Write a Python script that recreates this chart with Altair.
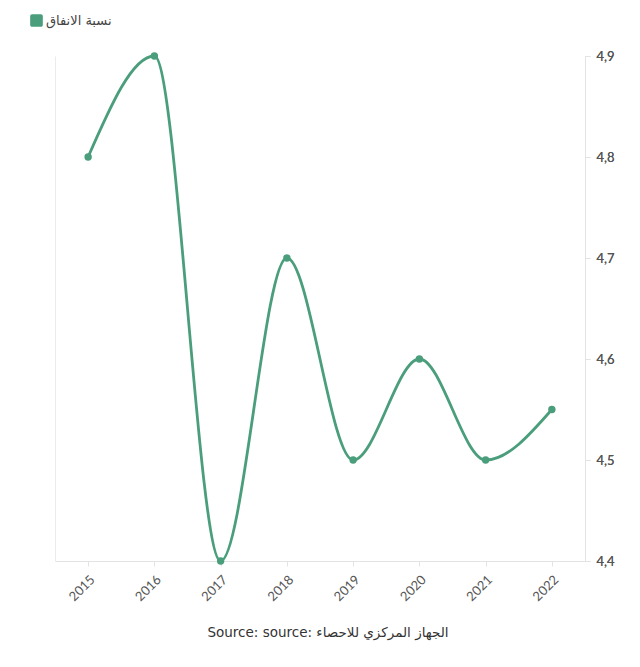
import altair as alt
import pandas as pd

years = ["2015", "2016", "2017", "2018", "2019", "2020", "2021", "2022"]
values = [4.8, 4.9, 4.4, 4.7, 4.5, 4.6, 4.5, 4.55]
series_name = "نسبة الانفاق"
y_ticks = [4.4, 4.5, 4.6, 4.7, 4.8, 4.9]
source_text = "Source: source: الجهاز المركزي للاحصاء"

df = pd.DataFrame({"year": years, "value": values, "series": [series_name] * len(years)})

W, H = 530, 505
GREEN = "#4a9e7c"

color = alt.Color(
    "series:N",
    scale=alt.Scale(range=[GREEN]),
    legend=alt.Legend(
        title=None,
        orient="none",
        legendX=-25,
        legendY=-42,
        symbolType="M-0.7,-1H0.7A0.3,0.3 0 0 1 1,-0.7V0.7A0.3,0.3 0 0 1 0.7,1H-0.7A0.3,0.3 0 0 1 -1,0.7V-0.7A0.3,0.3 0 0 1 -0.7,-1Z",
        symbolSize=160,
        symbolFillColor=GREEN,
        symbolStrokeWidth=0,
        labelFontSize=13,
        labelColor="#444",
        labelFont="DejaVu Sans",
        symbolOffset=0,
        labelOffset=3,
        padding=0,
    ),
)

x = alt.X(
    "year:O",
    scale=alt.Scale(type="point", padding=0.5),
    axis=alt.Axis(
        title=None,
        labelAngle=-45,
        labelFontSize=13,
        labelColor="#555",
        labelFont="Lato",
        domainColor="#e3e3e3",
        tickColor="#e3e3e3",
        tickSize=5,
        labelPadding=7,
        grid=False,
    ),
)
yscale = alt.Scale(domain=[4.4, 4.9], nice=False, zero=False)
y = alt.Y(
    "value:Q",
    scale=yscale,
    axis=alt.Axis(
        title=None,
        orient="right",
        values=y_ticks,
        labelExpr="replace(format(datum.value, '.1f'), '.', ',')",
        labelFontSize=13,
        labelColor="#555",
        labelFont="Lato",
        domainColor="#e3e3e3",
        tickColor="#e3e3e3",
        tickSize=5,
        labelPadding=6,
        grid=False,
    ),
)

left_border = alt.Chart(df).mark_point(opacity=0).encode(
    x=x,
    y=alt.Y(
        "value:Q",
        scale=yscale,
        axis=alt.Axis(
            title=None, orient="left", labels=False, ticks=False,
            domainColor="#ebebeb", grid=False,
        ),
    ),
)
line = alt.Chart(df).mark_line(interpolate="monotone", strokeWidth=2.8).encode(
    x=x, y=y, color=color
)
points = alt.Chart(df).mark_point(filled=True, size=55, opacity=1).encode(
    x=x, y=y, color=alt.Color("series:N", scale=alt.Scale(range=[GREEN]), legend=None)
)

chart = (
    alt.layer(left_border, line, points)
    .resolve_axis(y="independent")
    .properties(
        width=W,
        height=H,
        background="white",
        padding={"left": 30, "top": 14, "right": 10, "bottom": 10},
        title=alt.TitleParams(
            text=source_text,
            orient="bottom",
            anchor="middle",
            fontSize=13.5,
            fontWeight="normal",
            color="#333",
            font="DejaVu Sans",
            offset=22,
            dx=8,
        ),
    )
    .configure_view(stroke="transparent", strokeWidth=0)
    .configure_axis(grid=False)
)

chart.save("out.html", embed_options={"renderer": "svg", "actions": False})
